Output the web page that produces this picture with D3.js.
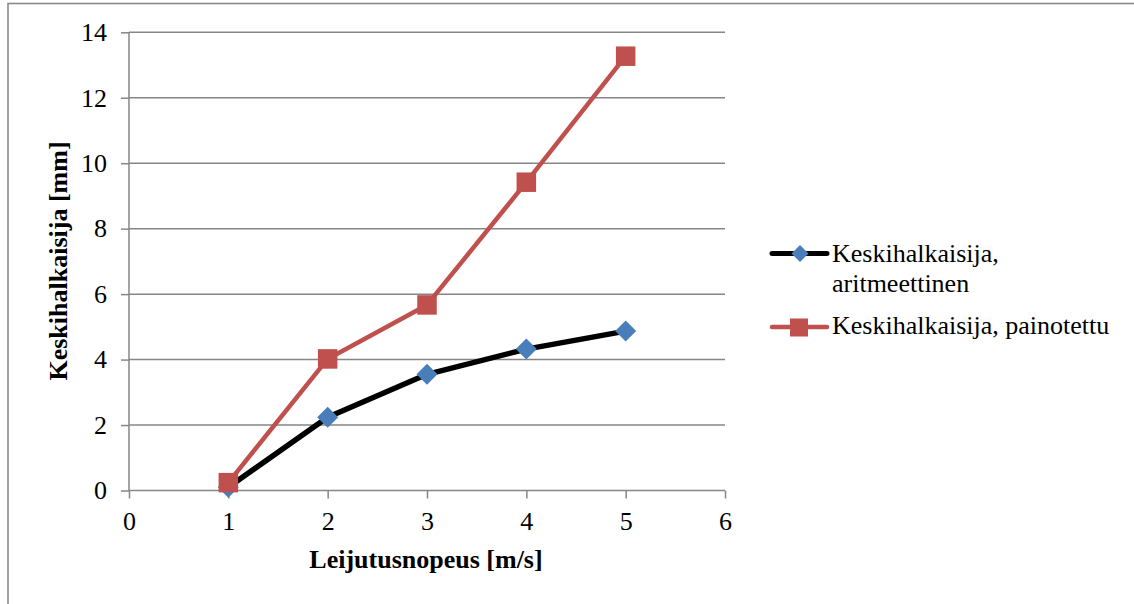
<!DOCTYPE html>
<html>
<head>
<meta charset="utf-8">
<script src="https://cdn.jsdelivr.net/npm/d3@7"></script>
<style>
  html, body { margin: 0; padding: 0; background: #fff; }
  svg { display: block; }
  text { font-family: "Liberation Serif", "Times New Roman", serif; fill: #000; }
</style>
</head>
<body>
<svg id="chart" width="1134" height="604"></svg>
<script>
// Flotation speed (m/s) and median diameters (mm)
const speeds = [1, 2, 3, 4, 5];
const arithmetic = [0.1, 2.24, 3.55, 4.32, 4.87];
const weighted = [0.24, 4.02, 5.67, 9.42, 13.27];
const xTicks = [0, 1, 2, 3, 4, 5, 6];
const yTicks = [0, 2, 4, 6, 8, 10, 12, 14];
const seriesNames = ["Keskihalkaisija, aritmeettinen", "Keskihalkaisija, painotettu"];

const FONT = '"Liberation Serif", "Times New Roman", serif';
const svg = d3.select("#chart");
const gridColor = "#868686";

// Outer frame
svg.append("rect")
  .attr("x", 8).attr("y", 3.5)
  .attr("width", 1140).attr("height", 620)
  .attr("fill", "none").attr("stroke", "#8a8a8a").attr("stroke-width", 1.6);

const x = d3.scaleLinear().domain([0, 6]).range([129, 725]);
const y = d3.scaleLinear().domain([0, 14]).range([490.5, 32.3]);

// Horizontal gridlines
svg.append("g").selectAll("line").data(yTicks.filter(d => d > 0)).join("line")
  .attr("x1", x(0)).attr("x2", x(6))
  .attr("y1", d => y(d)).attr("y2", d => y(d))
  .attr("stroke", gridColor).attr("stroke-width", 1.5);

// Y axis
const yAxis = svg.append("g")
  .attr("transform", `translate(${x(0)},0)`)
  .call(d3.axisLeft(y).tickValues(yTicks).tickSize(8).tickPadding(14).tickFormat(d3.format("d")));
yAxis.attr("font-family", null).attr("font-size", null);
yAxis.select(".domain").attr("stroke", gridColor).attr("stroke-width", 1.5).attr("d", `M0,${y(0)}V${y(14)}`);
yAxis.selectAll(".tick line").attr("stroke", gridColor).attr("stroke-width", 1.5);
yAxis.selectAll(".tick text").style("font-family", FONT).style("font-size", "26px").attr("fill", "#000");

// X axis
const xAxis = svg.append("g")
  .attr("transform", `translate(0,${y(0)})`)
  .call(d3.axisBottom(x).tickValues(xTicks).tickSize(8).tickFormat(d3.format("d")));
xAxis.attr("font-family", null).attr("font-size", null);
xAxis.select(".domain").attr("stroke", gridColor).attr("stroke-width", 1.5).attr("d", `M${x(0)},0H${x(6)}`);
xAxis.selectAll(".tick line").attr("stroke", gridColor).attr("stroke-width", 1.5);
xAxis.selectAll(".tick text").attr("y", 39.5).attr("dy", null)
  .style("font-family", FONT).style("font-size", "26px").attr("fill", "#000");

// Axis titles
svg.append("text")
  .attr("x", 426).attr("y", 568)
  .attr("text-anchor", "middle")
  .style("font-family", FONT).style("font-size", "26px").style("font-weight", "bold")
  .text("Leijutusnopeus [m/s]");

svg.append("text")
  .attr("transform", "translate(67,261) rotate(-90)")
  .attr("text-anchor", "middle")
  .style("font-family", FONT).style("font-size", "26px").style("font-weight", "bold")
  .text("Keskihalkaisija [mm]");

const line = d3.line().x(d => x(d[0])).y(d => y(d[1]));
const arithPts = speeds.map((s, i) => [s, arithmetic[i]]);
const weightPts = speeds.map((s, i) => [s, weighted[i]]);

const diamond = (cx, cy, r) => `M${cx},${cy - r}L${cx + r},${cy}L${cx},${cy + r}L${cx - r},${cy}Z`;

// Arithmetic series
svg.append("path").datum(arithPts)
  .attr("d", line).attr("fill", "none")
  .attr("stroke", "#000").attr("stroke-width", 5.5).attr("stroke-linejoin", "round");
svg.append("g").selectAll("path").data(arithPts).join("path")
  .attr("d", d => diamond(x(d[0]), y(d[1]), 10.5))
  .attr("fill", "#4a7ebb");

// Weighted series
svg.append("path").datum(weightPts)
  .attr("d", line).attr("fill", "none")
  .attr("stroke", "#c0504d").attr("stroke-width", 4.5).attr("stroke-linejoin", "round");
svg.append("g").selectAll("rect").data(weightPts).join("rect")
  .attr("x", d => x(d[0]) - 9.75).attr("y", d => y(d[1]) - 9.75)
  .attr("width", 19.5).attr("height", 19.5)
  .attr("fill", "#c0504d");

// Legend
const leg = svg.append("g").style("font-family", FONT).style("font-size", "26px");
leg.append("line").attr("x1", 772).attr("x2", 827).attr("y1", 253.5).attr("y2", 253.5)
  .attr("stroke", "#000").attr("stroke-width", 5).attr("stroke-linecap", "round");
leg.append("path").attr("d", diamond(800, 253.5, 8.5)).attr("fill", "#4a7ebb");
const t1 = leg.append("text").attr("x", 832).attr("y", 261.5);
t1.append("tspan").attr("x", 832).text("Keskihalkaisija,");
t1.append("tspan").attr("x", 832).attr("dy", 30).text("aritmeettinen");

leg.append("line").attr("x1", 772).attr("x2", 827).attr("y1", 327).attr("y2", 327)
  .attr("stroke", "#c0504d").attr("stroke-width", 4.5).attr("stroke-linecap", "round");
leg.append("rect").attr("x", 790).attr("y", 318.5).attr("width", 18).attr("height", 18).attr("fill", "#c0504d");
leg.append("text").attr("x", 832).attr("y", 333.5).text(seriesNames[1]);
</script>
</body>
</html>
